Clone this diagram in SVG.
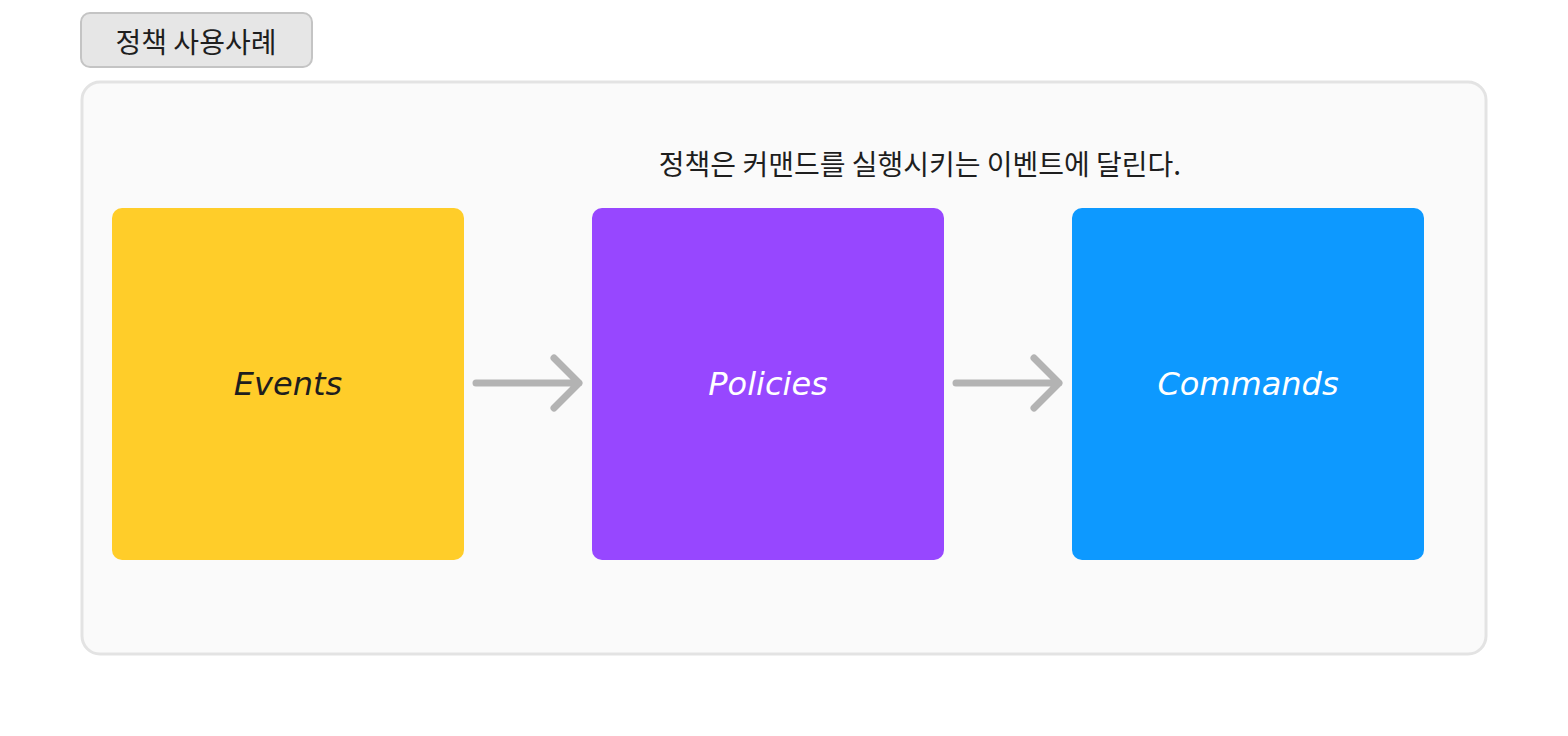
<svg xmlns="http://www.w3.org/2000/svg" width="1568" height="736" viewBox="0 0 1568 736">
<style>
.k{font-family:"Noto Sans CJK KR","Noto Sans",sans-serif;fill:#1e1e1e}
.lbl{font-family:"Comic Sans MS","DejaVu Sans",sans-serif;font-style:italic;font-size:32px;text-anchor:middle;dominant-baseline:central}
.arr{stroke:#b3b3b3;stroke-width:7;fill:none;stroke-linecap:round;stroke-linejoin:round}
</style>
<rect width="1568" height="736" fill="#fff"/>
<g id="title"><rect x="81" y="13" width="231" height="54" rx="9" fill="#e6e6e6" stroke="#c4c4c4" stroke-width="2"/>
<text x="196" y="41" class="k" font-size="28" text-anchor="middle" dominant-baseline="central">정책 사용사례</text></g>
<g id="frame"><rect x="82" y="82" width="1404" height="572" rx="18" fill="#fafafa" stroke="#e3e3e3" stroke-width="3"/>
<text x="920" y="163" class="k" font-size="28" text-anchor="middle" dominant-baseline="central">정책은 커맨드를 실행시키는 이벤트에 달린다.</text></g>
<g id="events"><rect x="112" y="208" width="352" height="352" rx="10" fill="#ffcd29"/><text x="288" y="384" class="lbl" fill="#1e1e1e">Events</text></g>
<g id="policies"><rect x="592" y="208" width="352" height="352" rx="10" fill="#9747ff"/><text x="768" y="384" class="lbl" fill="#fff">Policies</text></g>
<g id="commands"><rect x="1072" y="208" width="352" height="352" rx="10" fill="#0d99ff"/><text x="1248" y="384" class="lbl" fill="#fff">Commands</text></g>
<g id="connectors">
<path class="arr" d="M476 383H579M554 358L579 383L554 408"/>
<path class="arr" d="M956 383H1059M1034 358L1059 383L1034 408"/>
</g>
</svg>
